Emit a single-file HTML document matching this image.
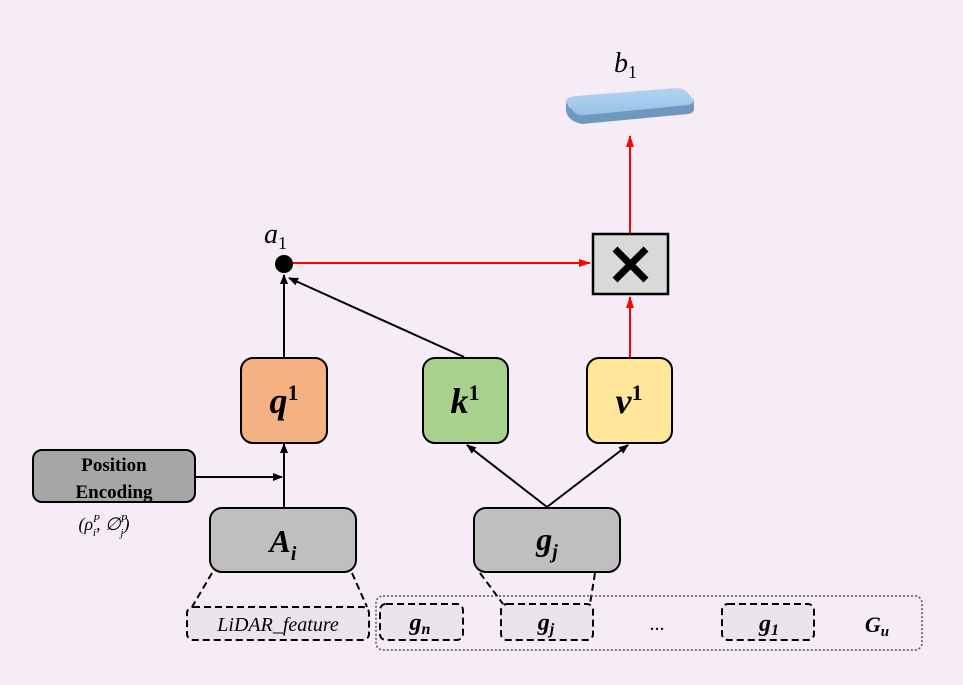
<!DOCTYPE html>
<html><head><meta charset="utf-8"><style>
html,body{margin:0;padding:0;background:#f6ecf5;}
svg{display:block;}
</style></head><body>
<svg width="963" height="685" viewBox="0 0 963 685" xmlns="http://www.w3.org/2000/svg" font-family="Liberation Serif, serif">
<defs>
<marker id="ab" markerWidth="10" markerHeight="10" refX="9" refY="5" orient="auto" markerUnits="userSpaceOnUse"><path d="M0,1 L10,5 L0,9 z" fill="#000"/></marker>
<marker id="ar" markerWidth="12" markerHeight="10" refX="11" refY="5" orient="auto" markerUnits="userSpaceOnUse"><path d="M0,1 L12,5 L0,9 z" fill="#f00"/></marker>
<linearGradient id="slab" x1="0" y1="0" x2="0" y2="1"><stop offset="0" stop-color="#b3d4f2"/><stop offset="1" stop-color="#98c0e6"/></linearGradient>
</defs>
<rect x="0" y="0" width="963" height="685" fill="#f6ecf5"/>
<!-- b1 -->
<text x="614" y="72" font-size="28" font-style="italic">b<tspan font-size="18" font-style="normal" dy="6">1</tspan></text>
<path d="M566,102 L566,111 Q568,121 582,124 L688,114 Q694,113 694,109 L694,100 L680,100 L570,108 z" fill="#6f98bf"/>
<path d="M566,102 Q566,97 576,96 L676,88 Q682,88 686,91 L694,100 Q694,104 688,105 L586,115 Q578,116 574,112 z" fill="url(#slab)"/>
<!-- red arrows -->
<line x1="630" y1="233" x2="630" y2="136" stroke="#f00" stroke-width="2" marker-end="url(#ar)"/>
<line x1="292" y1="263" x2="590" y2="263" stroke="#f00" stroke-width="2" marker-end="url(#ar)"/>
<line x1="630" y1="357" x2="630" y2="297" stroke="#f00" stroke-width="2" marker-end="url(#ar)"/>
<!-- X box -->
<rect x="593" y="234" width="75" height="60" fill="#d9d9d9" stroke="#000" stroke-width="2.5"/>
<path d="M615,249 L646,280 M646,249 L615,280" stroke="#000" stroke-width="7"/>
<!-- a1 -->
<text x="264" y="243" font-size="28" font-style="italic">a<tspan font-size="18" font-style="normal" dy="6">1</tspan></text>
<circle cx="284" cy="264" r="9" fill="#000"/>
<!-- black arrows -->
<line x1="284" y1="357" x2="284" y2="275" stroke="#000" stroke-width="2" marker-end="url(#ab)"/>
<line x1="464" y1="357" x2="289" y2="278" stroke="#000" stroke-width="2" marker-end="url(#ab)"/>
<line x1="284" y1="508" x2="284" y2="444" stroke="#000" stroke-width="2" marker-end="url(#ab)"/>
<line x1="195" y1="477" x2="282" y2="477" stroke="#000" stroke-width="2" marker-end="url(#ab)"/>
<line x1="547" y1="507" x2="467" y2="445" stroke="#000" stroke-width="2" marker-end="url(#ab)"/>
<line x1="547" y1="507" x2="628" y2="445" stroke="#000" stroke-width="2" marker-end="url(#ab)"/>
<!-- q k v -->
<rect x="241" y="358" width="86" height="85" rx="12" fill="#f4b183" stroke="#000" stroke-width="2"/>
<text x="284" y="413" font-size="36" font-weight="bold" font-style="italic" text-anchor="middle">q<tspan font-size="22" font-style="normal" dy="-13">1</tspan></text>
<rect x="423" y="358" width="85" height="85" rx="12" fill="#a9d18e" stroke="#000" stroke-width="2"/>
<text x="465" y="413" font-size="36" font-weight="bold" font-style="italic" text-anchor="middle">k<tspan font-size="22" font-style="normal" dy="-13">1</tspan></text>
<rect x="587" y="358" width="85" height="85" rx="12" fill="#ffe699" stroke="#000" stroke-width="2"/>
<text x="629" y="413" font-size="36" font-weight="bold" font-style="italic" text-anchor="middle">v<tspan font-size="22" font-style="normal" dy="-13">1</tspan></text>
<!-- Position encoding -->
<rect x="33" y="450" width="162" height="52" rx="9" fill="#a6a6a6" stroke="#000" stroke-width="2"/>
<text x="114" y="471" font-size="19" font-weight="bold" text-anchor="middle">Position</text>
<text x="114" y="498" font-size="19" font-weight="bold" text-anchor="middle">Encoding</text>
<text x="104" y="530" font-size="18" font-style="italic" text-anchor="middle">(ρ<tspan font-size="11" dy="-8">P</tspan><tspan font-size="11" dx="-7" dy="14">i</tspan><tspan dy="-6">, ∅</tspan><tspan font-size="11" dy="-8">P</tspan><tspan font-size="11" dx="-7" dy="14">j</tspan><tspan dy="-6">)</tspan></text>
<!-- A_i -->
<rect x="210" y="508" width="146" height="64" rx="12" fill="#bfbfbf" stroke="#000" stroke-width="2"/>
<text x="283" y="552" font-size="32" font-weight="bold" font-style="italic" text-anchor="middle">A<tspan font-size="20" dy="8">i</tspan></text>
<!-- g_j -->
<rect x="474" y="508" width="146" height="64" rx="12" fill="#bfbfbf" stroke="#000" stroke-width="2"/>
<text x="547" y="550" font-size="32" font-weight="bold" font-style="italic" text-anchor="middle">g<tspan font-size="20" dy="8">j</tspan></text>
<!-- dashed lines -->
<g stroke="#000" stroke-width="2" stroke-dasharray="7,4" fill="none">
<line x1="212" y1="573" x2="192" y2="607"/>
<line x1="352" y1="573" x2="367" y2="607"/>
<line x1="480" y1="573" x2="503" y2="604"/>
<line x1="595" y1="573" x2="590" y2="604"/>
<rect x="187" y="607" width="182" height="33" rx="6" fill="#ece4ec"/>
<rect x="380" y="604" width="83" height="36" rx="6" fill="#ece4ec"/>
<rect x="501" y="604" width="92" height="36" rx="6" fill="#ece4ec"/>
<rect x="722" y="604" width="92" height="36" rx="6" fill="#ece4ec"/>
</g>
<rect x="376" y="596" width="546" height="54" rx="7" fill="none" stroke="#555" stroke-width="1.5" stroke-dasharray="2,2"/>
<text x="278" y="631" font-size="20" font-style="italic" text-anchor="middle">LiDAR_feature</text>
<text x="420" y="630" font-size="24" font-style="italic" font-weight="bold" text-anchor="middle">g<tspan font-size="16" dy="4">n</tspan></text>
<text x="546" y="630" font-size="24" font-style="italic" font-weight="bold" text-anchor="middle">g<tspan font-size="16" dy="4">j</tspan></text>
<text x="657" y="630" font-size="20" text-anchor="middle">...</text>
<text x="769" y="631" font-size="24" font-style="italic" font-weight="bold" text-anchor="middle">g<tspan font-size="16" dy="4">1</tspan></text>
<text x="877" y="632" font-size="22" font-style="italic" font-weight="bold" text-anchor="middle">G<tspan font-size="15" dy="4">u</tspan></text>
</svg>
</body></html>
